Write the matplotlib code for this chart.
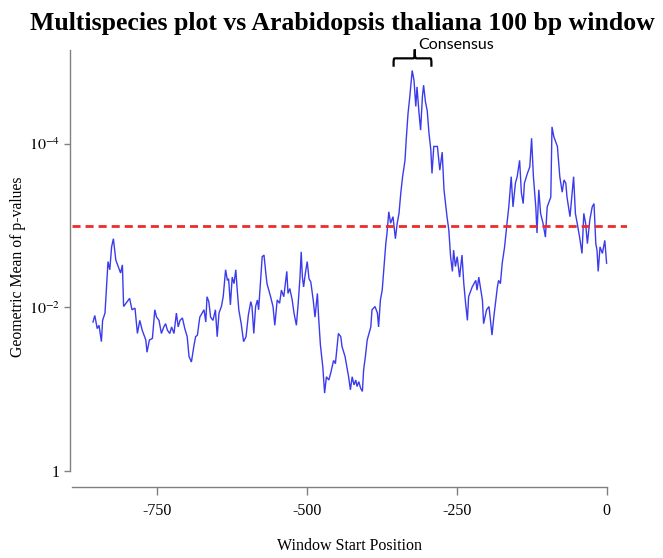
import numpy as np
import matplotlib
matplotlib.use("Agg")
import matplotlib.pyplot as plt
from matplotlib.path import Path
from matplotlib.patches import PathPatch
from matplotlib.ticker import NullLocator

# Window start positions (bp relative to the start codon)
window_start = [
    -856, -853, -849, -846, -842, -840, -836, -831, -828, -825, -822, -818, -814, -810,
    -807, -805, -799, -795, -791, -786, -782, -778, -774, -768, -766, -762, -757, -753,
    -750, -746, -742, -738, -735, -732, -728, -725, -721, -717, -714, -711, -707, -703,
    -699, -696, -692, -688, -685, -682, -678, -671, -668, -666, -663, -660, -656, -652,
    -649, -646, -642, -639, -635, -632, -630, -627, -624, -621, -618, -616, -613, -609,
    -605, -601, -597, -593, -591, -588, -585, -582, -580, -577, -574, -571, -568, -566,
    -563, -560, -556, -553, -549, -545, -542, -538, -533, -531, -528, -524, -521, -517,
    -514, -511, -509, -507, -505, -502, -499, -496, -493, -489, -486, -482, -480, -477,
    -473, -470, -467, -463, -460, -455, -452, -447, -443, -441, -436, -432, -430, -427,
    -424, -421, -418, -416, -413, -410, -407, -405, -402, -399, -393, -391, -386, -382,
    -380, -377, -374, -371, -368, -366, -363, -360, -356, -352, -349, -346, -343, -340,
    -336, -334, -331, -328, -324, -321, -318, -316, -313, -310, -307, -305, -302, -299,
    -296, -293, -291, -288, -282, -278, -274, -271, -266, -263, -260, -257, -255, -252,
    -249, -245, -241, -238, -235, -232, -230, -224, -218, -216, -213, -207, -205, -200,
    -196, -193, -191, -188, -182, -180, -177, -174, -170, -166, -163, -159, -156, -152,
    -149, -145, -142, -139, -137, -132, -128, -125, -122, -118, -116, -113, -110, -106,
    -102, -99, -96, -93, -91, -88, -85, -82, -78, -74, -71, -68, -66, -61,
    -57, -55, -52, -49, -45, -41, -38, -35, -32, -28, -24, -21, -18, -16,
    -14, -11, -7, -3, 0,
]

# log10 of the geometric mean of the per-species p-values in each window
log10_gmean = [
    -1.82, -1.90, -1.74, -1.78, -1.58, -1.84, -1.93, -2.56, -2.46, -2.74, -2.84, -2.58, -2.50, -2.42,
    -2.52, -2.01, -2.07, -2.11, -1.97, -1.99, -1.68, -1.84, -1.72, -1.60, -1.45, -1.60, -1.62, -1.97,
    -1.88, -1.84, -1.68, -1.76, -1.80, -1.72, -1.68, -1.76, -1.68, -1.93, -1.76, -1.84, -1.87, -1.74,
    -1.64, -1.40, -1.33, -1.52, -1.64, -1.66, -1.88, -1.97, -1.82, -2.13, -2.07, -1.88, -1.84, -1.97,
    -1.64, -1.93, -2.01, -2.13, -2.46, -2.33, -2.35, -2.03, -2.37, -2.29, -2.46, -2.25, -1.97, -1.80,
    -1.58, -1.64, -1.91, -2.07, -2.01, -1.68, -2.01, -2.09, -1.97, -2.29, -2.62, -2.64, -2.42, -2.29,
    -2.21, -2.13, -2.01, -1.78, -2.09, -2.05, -2.21, -2.13, -2.44, -2.17, -2.23, -2.09, -1.93, -1.78,
    -2.05, -2.37, -2.68, -2.37, -2.25, -2.42, -2.56, -2.35, -2.31, -2.09, -1.88, -2.17, -1.88, -1.54,
    -1.27, -0.95, -1.15, -1.11, -1.19, -1.35, -1.31, -1.68, -1.64, -1.52, -1.40, -1.23, -1.15, -0.99,
    -1.15, -1.05, -1.11, -1.03, -1.09, -1.01, -0.97, -1.23, -1.40, -1.60, -1.76, -1.97, -2.01, -1.93,
    -1.76, -2.09, -2.21, -2.50, -2.78, -2.91, -3.17, -3.03, -3.11, -2.84, -3.03, -3.15, -3.40, -3.60,
    -3.80, -4.05, -4.37, -4.58, -4.90, -4.78, -4.46, -4.70, -4.41, -4.17, -4.58, -4.72, -4.52, -4.41,
    -4.13, -3.93, -3.64, -3.97, -3.97, -3.68, -3.90, -3.44, -3.11, -2.95, -2.62, -2.44, -2.70, -2.50,
    -2.62, -2.37, -2.64, -2.29, -2.05, -1.84, -2.13, -2.25, -2.33, -2.21, -2.37, -2.09, -1.80, -1.97,
    -2.01, -1.80, -1.66, -1.88, -2.25, -2.33, -2.29, -2.54, -2.74, -3.03, -3.23, -3.60, -3.23, -3.52,
    -3.60, -3.80, -3.40, -3.27, -3.52, -3.64, -3.72, -4.07, -3.60, -3.23, -2.91, -3.44, -3.15, -3.03,
    -2.86, -3.23, -3.29, -3.35, -4.21, -4.09, -4.03, -3.97, -3.60, -3.41, -3.56, -3.52, -3.35, -3.11,
    -3.44, -3.60, -3.15, -3.03, -2.86, -2.66, -3.15, -3.03, -2.78, -3.07, -3.23, -3.27, -2.78, -2.70,
    -2.44, -2.74, -2.66, -2.82, -2.54,
]

threshold = 1e-3
consensus_start, consensus_end = -355, -292
x_ticks = [-750, -500, -250, 0]
x_tick_labels = ["-750", "-500", "-250", "0"]
y_ticks = [1, 1e-2, 1e-4]
y_tick_labels = ["1", r"$10^{-2}$", r"$10^{-4}$"]

plt.rcParams["font.family"] = ["Liberation Serif", "DejaVu Serif"]
plt.rcParams["mathtext.fontset"] = "stix"
plt.rcParams["axes.unicode_minus"] = False
plt.rcParams["lines.scale_dashes"] = False

axis_grey = "#808080"

fig = plt.figure(figsize=(6.63, 5.58), dpi=100)
ax = fig.add_axes([72 / 663, 71 / 558, 555 / 663, 441 / 558])

x = np.array(window_start, dtype=float)
p = 10.0 ** np.array(log10_gmean)
ax.plot(x, p, color="#3b3bee", lw=1.0, solid_joinstyle="miter")
ax.axhline(threshold, color="#ee2b2b", lw=2.0, dashes=(5.8, 3.6))

ax.set_yscale("log")
ax.set_xlim(-891, 34)
ax.set_ylim(10 ** 0.2, 10 ** -5.2)

for side in ("top", "right"):
    ax.spines[side].set_visible(False)
ax.spines["left"].set_position(("outward", 1.5))
ax.spines["left"].set_bounds(1, 10 ** -5.15)
ax.spines["bottom"].set_bounds(-891, 0)
for side in ("left", "bottom"):
    ax.spines[side].set_color(axis_grey)
    ax.spines[side].set_linewidth(1.0)

ax.set_xticks(x_ticks)
ax.set_xticklabels(x_tick_labels)
ax.set_yticks(y_ticks)
ax.set_yticklabels(y_tick_labels)
ax.yaxis.set_minor_locator(NullLocator())
ax.tick_params(axis="x", length=5.8, width=1.0, color=axis_grey, pad=6, labelsize=11.5)
ax.tick_params(axis="y", length=4.3, width=1.0, color=axis_grey, pad=3, labelsize=11.5)

ax.set_xlabel("Window Start Position", fontsize=11.5)
ax.xaxis.set_label_coords(0.5, -0.115)
ax.set_ylabel("Geometric Mean of p-values", fontsize=11.3)
ax.yaxis.set_label_coords(-0.082, 0.5)

fig.text(30 / 663, 1 - 30 / 558, "Multispecies plot vs Arabidopsis thaliana 100 bp window",
         fontsize=18.5, fontweight="bold", ha="left", va="baseline")

# Curly brace marking the consensus region above the main peak
xa, xb = consensus_start, consensus_end
xm = xa + 0.56 * (xb - xa)
y_end, y_bar, y_tip = 0.953, 0.972, 0.992
r = 3.0
verts = [
    (xa, y_end),
    (xa, y_bar), (xa, y_bar), (xa + r, y_bar),
    (xm - r, y_bar),
    (xm - 0.5, y_bar), (xm, y_bar + 0.003), (xm, y_tip),
    (xm, y_bar + 0.003), (xm + 0.5, y_bar), (xm + r, y_bar),
    (xb - r, y_bar),
    (xb, y_bar), (xb, y_bar), (xb, y_end),
]
codes = [Path.MOVETO,
         Path.CURVE4, Path.CURVE4, Path.CURVE4,
         Path.LINETO,
         Path.CURVE4, Path.CURVE4, Path.CURVE4,
         Path.CURVE4, Path.CURVE4, Path.CURVE4,
         Path.LINETO,
         Path.CURVE4, Path.CURVE4, Path.CURVE4]
brace = PathPatch(Path(verts, codes), transform=ax.get_xaxis_transform(),
                  facecolor="none", edgecolor="black", lw=1.6, clip_on=False)
ax.add_patch(brace)
ax.text(xm + 6, 0.9925, "Consensus", transform=ax.get_xaxis_transform(),
        fontsize=11.5, family=["Lato", "DejaVu Sans"], ha="left", va="baseline", clip_on=False)

fig.savefig("out.png", dpi=100)
